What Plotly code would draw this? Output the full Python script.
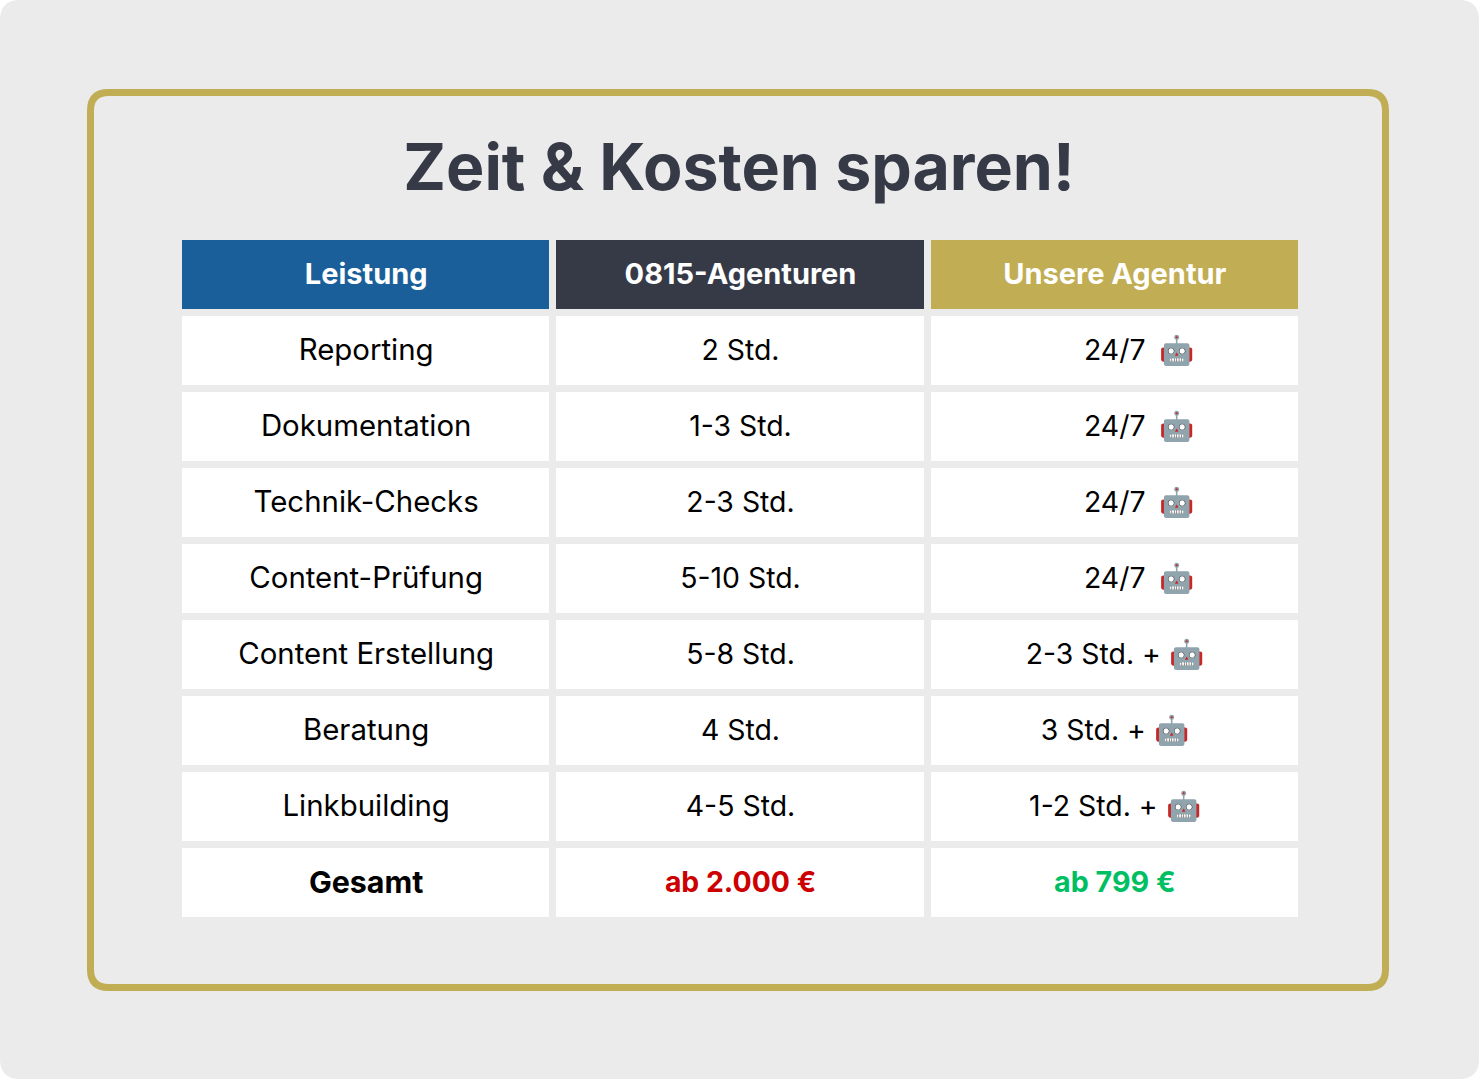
import plotly.graph_objects as go

W, H = 1480, 1080
BG = '#EBEBEB'
GOLD = '#C1AD53'
DARK = '#363A47'
BLUE = '#1A5F9A'
RED = '#CC0000'
GREEN = '#00BF63'
FONT = 'Inter'
TEXT_DY = 0.028  # Inter sits a little high in the row compared to the original

headers = ['Leistung', '0815-Agenturen', 'Unsere Agentur']
leistung = ['Reporting', 'Dokumentation', 'Technik-Checks', 'Content-Prüfung',
            'Content Erstellung', 'Beratung', 'Linkbuilding', 'Gesamt']
agenturen = ['2 Std.', '1-3 Std.', '2-3 Std.', '5-10 Std.',
             '5-8 Std.', '4 Std.', '4-5 Std.', 'ab 2.000 €']
# the 24/7 rows sit right of the column centre, hence the leading no-break spaces
pad = '\u00a0' * 6
unsere = [pad + '24/7 \u2009🤖', pad + '24/7 \u2009🤖', pad + '24/7 \u2009🤖', pad + '24/7 \u2009🤖',
          '2-3 Std. + 🤖', '3 Std. + 🤖', '1-2 Std. + 🤖', 'ab 799 €']
columns = [leistung, agenturen, unsere]
body_sizes = [29.4, 28.4, 28.4]
total_sizes = [30.4, 28.4, 28.7]
total_colors = ['black', RED, GREEN]


def rounded(x0, y0, x1, y1, r):
    # rounded rectangle path, given in pixels, written in paper coordinates
    px = lambda x: x / W
    py = lambda y: 1 - y / H
    return (f'M {px(x0 + r)} {py(y0)} L {px(x1 - r)} {py(y0)} '
            f'Q {px(x1)} {py(y0)} {px(x1)} {py(y0 + r)} L {px(x1)} {py(y1 - r)} '
            f'Q {px(x1)} {py(y1)} {px(x1 - r)} {py(y1)} L {px(x0 + r)} {py(y1)} '
            f'Q {px(x0)} {py(y1)} {px(x0)} {py(y1 - r)} L {px(x0)} {py(y0 + r)} '
            f'Q {px(x0)} {py(y0)} {px(x0 + r)} {py(y0)} Z')


n = len(leistung)
fig = go.Figure()

# cell backgrounds: one colour index per cell, gaps show the page behind
z = [[0, 1, 2]] + [[3, 3, 3] for _ in range(n)]
fig.add_trace(go.Heatmap(
    z=z, zmin=0, zmax=3, xgap=7, ygap=7, showscale=False, hoverinfo='skip',
    colorscale=[[0, BLUE], [0.25, BLUE], [0.25, DARK], [0.5, DARK],
                [0.5, GOLD], [0.75, GOLD], [0.75, 'white'], [1, 'white']],
))

# header row
fig.add_trace(go.Scatter(
    x=list(range(3)), y=[TEXT_DY] * 3, mode='text',
    text=[f'<b>{h}</b>' for h in headers], textposition='middle center',
    textfont=dict(family=FONT, size=29, color='white'), hoverinfo='skip',
))

# body rows
for c, col in enumerate(columns):
    fig.add_trace(go.Scatter(
        x=[c] * n, y=[r + TEXT_DY for r in range(1, n + 1)], mode='text',
        text=col[:-1] + [f'<b>{col[-1]}</b>'], textposition='middle center',
        textfont=dict(family=FONT,
                      size=[body_sizes[c]] * (n - 1) + [total_sizes[c]],
                      color=['black'] * (n - 1) + [total_colors[c]]),
        hoverinfo='skip',
    ))

fig.update_layout(
    width=W, height=H,
    margin=dict(l=0, r=0, t=0, b=0),
    paper_bgcolor='white',
    plot_bgcolor='rgba(0,0,0,0)',
    showlegend=False,
    font=dict(family=FONT),
    title=dict(text='<b>Zeit & Kosten sparen!</b>', x=739 / W, xanchor='center',
               y=1 - 167 / H, yanchor='middle',
               font=dict(family=FONT, size=64.4, color=DARK)),
    xaxis=dict(domain=[179 / W, 1302 / W], range=[-0.5, 2.5], visible=False),
    yaxis=dict(domain=[1 - 921 / H, 1 - 237 / H], range=[8.5, -0.5], visible=False),
    shapes=[
        dict(type='path', xref='paper', yref='paper', layer='below',
             path=rounded(0, 0, 1479, 1079, 20), fillcolor=BG, line_width=0),
        dict(type='path', xref='paper', yref='paper', layer='below',
             path=rounded(90.5, 92.5, 1385.5, 987.5, 18),
             line=dict(color=GOLD, width=7)),
    ],
)

fig.write_html('out.html', config=dict(displayModeBar=False),
               post_script="document.body.style.margin='0';")
